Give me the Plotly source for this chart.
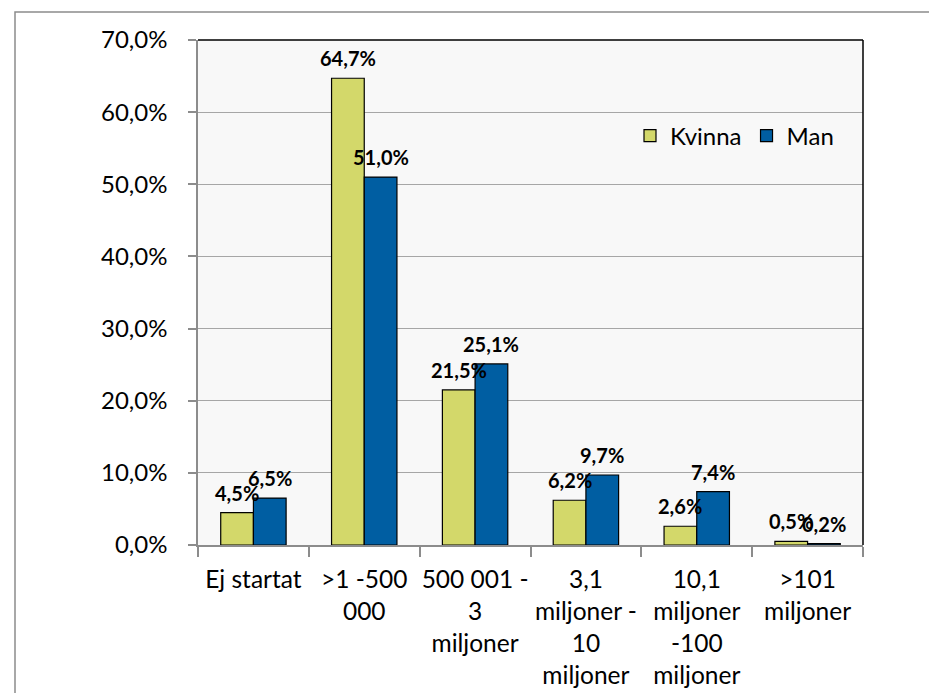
import plotly.graph_objects as go

categories = ["Ej startat", "&gt;1 -500<br>000", "500 001 -<br>3<br>miljoner",
              "3,1<br>miljoner -<br>10<br>miljoner", "10,1<br>miljoner<br>-100<br>miljoner",
              "&gt;101<br>miljoner"]
kvinna = [4.5, 64.7, 21.5, 6.2, 2.6, 0.5]
man = [6.5, 51.0, 25.1, 9.7, 7.4, 0.2]
series_names = ["Kvinna", "Man"]
colors = ["#d3d86a", "#005ea2"]

FONT = "Lato"

def lab(v):
    return f"{v:.1f}%".replace(".", ",")

# page is offset by the default 8px body margin
W, H = 929, 685
L, R, T, B = 190, 74, 32, 148
pw, ph = W - L - R, H - T - B
PL, PT = L + 8, T + 8  # plot area position on page

def px(x):
    return (x - PL) / pw

def py(y):
    return 1 - (y - PT) / ph

BARGAP = 0.41
bar_px = pw / len(categories) * (1 - BARGAP) / 2

fig = go.Figure()
annotations = []
for i, (name, vals, col) in enumerate(zip(series_names, [kvinna, man], colors)):
    fig.add_trace(go.Bar(
        x=categories, y=vals, name=name,
        marker=dict(color=col, line=dict(color="#000000", width=1.2)),
    ))
    shift = (i - 0.5) * bar_px
    for c, v in zip(categories, vals):
        annotations.append(dict(
            x=c, y=v, xref="x", yref="y", text=lab(v), showarrow=False,
            xanchor="center", yanchor="bottom", xshift=shift, yshift=6,
            font=dict(family=FONT, size=20, color="#000000", weight="bold"),
        ))

fig.update_layout(
    width=W, height=H,
    margin=dict(l=L, r=R, t=T, b=B),
    paper_bgcolor="#ffffff", plot_bgcolor="#f8f8f8",
    barmode="group", bargap=BARGAP, bargroupgap=0,
    separators=", ",
    font=dict(family=FONT, size=24, color="#000000"),
    showlegend=True,
    legend=dict(orientation="h", x=px(630), y=py(136), xanchor="left", yanchor="middle",
                bgcolor="rgba(0,0,0,0)", font=dict(family=FONT, size=24),
                itemwidth=30, traceorder="normal"),
    xaxis=dict(showline=True, linecolor="#8c8c8c", linewidth=1.5,
               ticks="outside", ticklen=10, tickcolor="#8c8c8c", tickwidth=1.5,
               tickson="boundaries", tickfont=dict(family=FONT, size=24.5),
               tickangle=0, automargin=False,
               ticklabelstandoff=12, showgrid=False),
    yaxis=dict(range=[0, 70], dtick=10, tickformat=".1f", ticksuffix="%",
               showline=True, linecolor="#8c8c8c", linewidth=1.5,
               ticks="outside", ticklen=8, tickcolor="#8c8c8c", tickwidth=1.5,
               gridcolor="#a6a6a6", gridwidth=1.2, zeroline=False, automargin=False,
               tickfont=dict(family=FONT, size=24), ticklabelstandoff=16),
    annotations=annotations,
    shapes=[
        dict(type="rect", xref="paper", yref="paper",
             x0=px(15), x1=px(1200), y0=py(1200), y1=py(12),
             line=dict(color="#8c8c8c", width=1.5), fillcolor="rgba(0,0,0,0)", layer="below"),
        dict(type="line", xref="paper", yref="paper", x0=0, x1=1, y0=1, y1=1,
             line=dict(color="#000000", width=1.5)),
        dict(type="line", xref="paper", yref="paper", x0=1, x1=1, y0=0, y1=1,
             line=dict(color="#000000", width=1.5)),
    ],
)

fig.write_html("out.html")
